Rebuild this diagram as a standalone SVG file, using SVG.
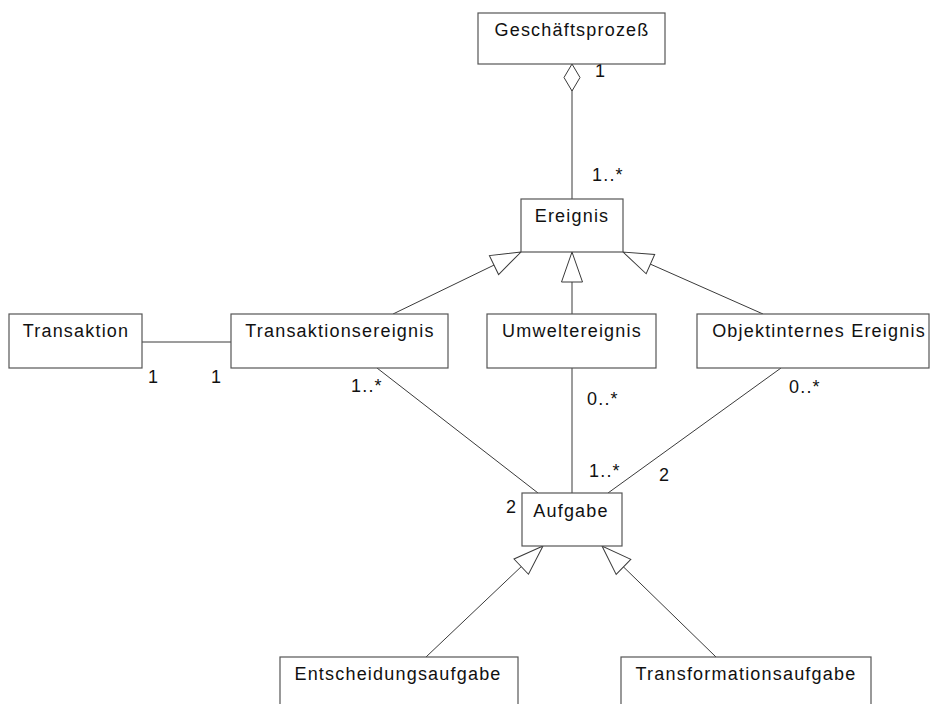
<svg xmlns="http://www.w3.org/2000/svg" width="931" height="704" viewBox="0 0 931 704">
  <style>
    .box { fill: #ffffff; stroke: #555555; stroke-width: 1.2; }
    .name { font-family: "Liberation Sans", Arial, sans-serif; font-size: 18px; letter-spacing: 1.2px; fill: #111111; text-anchor: middle; }
    .mult { font-family: "Liberation Sans", Arial, sans-serif; font-size: 18px; letter-spacing: 1.2px; fill: #111111; }
    .edge { fill: none; stroke: #3a3a3a; stroke-width: 1; }
    .gen { marker-end: url(#hollowTriangle); }
    .agg { marker-start: url(#hollowDiamond); }
  </style>
  <defs>
    <!-- UML generalization head: hollow triangle, tip at the line end -->
    <marker id="hollowTriangle" viewBox="0 0 30 21" refX="30" refY="10.5" markerWidth="30" markerHeight="21" markerUnits="userSpaceOnUse" orient="auto" overflow="visible">
      <path d="M30,10.5 L0,0 L0,21 Z" fill="#ffffff" stroke="#3a3a3a" stroke-width="1"/>
    </marker>
    <!-- UML aggregation end: hollow diamond at the whole side -->
    <marker id="hollowDiamond" viewBox="0 0 27 16" refX="0" refY="8" markerWidth="27" markerHeight="16" markerUnits="userSpaceOnUse" orient="auto" overflow="visible">
      <path d="M0,8 L13.5,0 L27,8 L13.5,16 Z" fill="#ffffff" stroke="#3a3a3a" stroke-width="1"/>
    </marker>
  </defs>

  <!-- connectors -->
  <g id="connectors">
    <line class="edge agg" x1="572" y1="64" x2="572" y2="199"/>
    <line class="edge gen" x1="393" y1="314" x2="521" y2="252"/>
    <line class="edge gen" x1="572" y1="314" x2="572" y2="252"/>
    <line class="edge gen" x1="763" y1="314" x2="623" y2="252"/>
    <line class="edge" x1="142" y1="342" x2="231" y2="342"/>
    <line class="edge" x1="377" y1="368" x2="538" y2="493"/>
    <line class="edge" x1="572" y1="368" x2="572" y2="493"/>
    <line class="edge" x1="781" y1="368" x2="608" y2="493"/>
    <line class="edge gen" x1="426" y1="657" x2="543" y2="546"/>
    <line class="edge gen" x1="716" y1="657" x2="602" y2="546"/>
  </g>

  <!-- multiplicities -->
  <g id="multiplicities">
    <text class="mult" x="595" y="77">1</text>
    <text class="mult" x="592" y="181">1..*</text>
    <text class="mult" x="148" y="383">1</text>
    <text class="mult" x="211" y="383">1</text>
    <text class="mult" x="351" y="392">1..*</text>
    <text class="mult" x="587" y="405">0..*</text>
    <text class="mult" x="789" y="393">0..*</text>
    <text class="mult" x="589" y="477">1..*</text>
    <text class="mult" x="659" y="481">2</text>
    <text class="mult" x="506" y="513">2</text>
  </g>

  <!-- classes -->
  <g id="geschaeftsprozess">
    <rect class="box" x="478" y="13" width="187" height="51"/>
    <text class="name" x="572" y="36">Geschäftsprozeß</text>
  </g>
  <g id="ereignis">
    <rect class="box" x="521" y="199" width="102" height="53"/>
    <text class="name" x="572" y="222">Ereignis</text>
  </g>
  <g id="transaktion">
    <rect class="box" x="9" y="314" width="133" height="54"/>
    <text class="name" x="76" y="337">Transaktion</text>
  </g>
  <g id="transaktionsereignis">
    <rect class="box" x="231" y="314" width="217" height="54"/>
    <text class="name" x="340" y="337">Transaktionsereignis</text>
  </g>
  <g id="umweltereignis">
    <rect class="box" x="487" y="314" width="169" height="54"/>
    <text class="name" x="572" y="337">Umweltereignis</text>
  </g>
  <g id="objektinternes-ereignis">
    <rect class="box" x="697" y="314" width="232" height="54"/>
    <text class="name" x="819" y="337">Objektinternes Ereignis</text>
  </g>
  <g id="aufgabe">
    <rect class="box" x="522" y="493" width="100" height="53"/>
    <text class="name" x="571" y="517">Aufgabe</text>
  </g>
  <g id="entscheidungsaufgabe">
    <rect class="box" x="280" y="657" width="238" height="60"/>
    <text class="name" x="398" y="680">Entscheidungsaufgabe</text>
  </g>
  <g id="transformationsaufgabe">
    <rect class="box" x="621" y="657" width="250" height="60"/>
    <text class="name" x="746" y="680">Transformationsaufgabe</text>
  </g>
</svg>
